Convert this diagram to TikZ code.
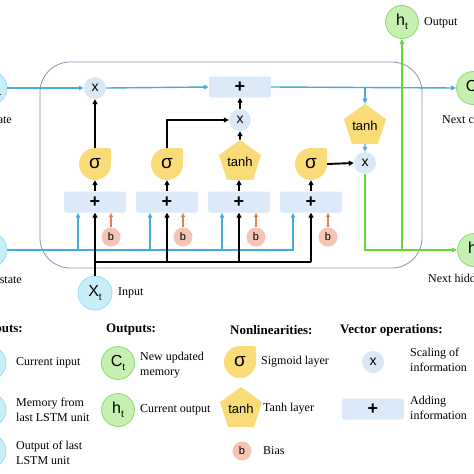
\documentclass[tikz,border=0pt]{standalone}
\usepackage{fontspec}
\setmainfont{Liberation Serif}
\newfontfamily\lsans{Liberation Sans}
\usetikzlibrary{arrows.meta,shapes.geometric,calc,backgrounds}
\definecolor{inF}{HTML}{C8EEF9}
\definecolor{inD}{HTML}{9EDDF1}
\definecolor{outF}{HTML}{C6EFB2}
\definecolor{outD}{HTML}{8FDB6F}
\definecolor{mulF}{HTML}{DAE8F5}
\definecolor{addF}{HTML}{DBE9F8}
\definecolor{sigF}{HTML}{F9DB78}
\definecolor{bF}{HTML}{F6C4B5}
\definecolor{blueL}{HTML}{45ACDC}
\definecolor{greenL}{HTML}{62D935}
\definecolor{oraL}{HTML}{E5804E}
\definecolor{frameC}{HTML}{8397AB}
\newcommand{\lsub}[2]{#1{\fontsize{10}{10}\selectfont\raisebox{-4pt}{#2}}}
\tikzset{
  x=1pt, y=-1pt,
  every node/.style={font=\fontsize{12}{15}\selectfont},
  inc/.style={circle, minimum size=34pt, inner sep=0pt, fill=inF, draw=inD, line width=0.8pt, font=\lsans\fontsize{16}{16}\selectfont},
  outc/.style={circle, minimum size=33pt, inner sep=0pt, fill=outF, draw=outD, line width=0.8pt, font=\lsans\fontsize{16}{16}\selectfont},
  mulc/.style={circle, minimum size=22pt, inner sep=0pt, fill=mulF, font=\lsans\fontsize{14}{14}\selectfont},
  addb/.style={rectangle, rounded corners=2.5pt, minimum width=62pt, minimum height=21pt, inner sep=0pt, fill=addF, font=\lsans\bfseries\fontsize{18}{18}\selectfont},
  sigc/.style={circle, minimum size=32pt, inner sep=0pt, fill=sigF, font=\lsans\fontsize{19}{19}\selectfont},
  tanhp/.style={regular polygon, regular polygon sides=5, minimum size=38pt, inner sep=0pt, fill=sigF, font=\lsans\fontsize{13}{13}\selectfont},
  biasc/.style={circle, minimum size=19pt, inner sep=0pt, fill=bF, font=\lsans\fontsize{11}{11}\selectfont},
  bl/.style={draw=blueL, line width=1.4pt, -{Triangle[length=5pt,width=4.5pt]}},
  bk/.style={draw=black, line width=1.9pt, -{Triangle[length=5pt,width=5pt]}},
  orr/.style={draw=oraL, line width=1.3pt, -{Triangle[length=4.5pt,width=4pt]}},
  gr/.style={draw=greenL, line width=1.8pt, -{Triangle[length=5pt,width=4.5pt]}},
  txt/.style={anchor=west, inner sep=0pt, align=left, font=\fontsize{12}{15}\selectfont},
  hdr/.style={anchor=west, inner sep=0pt, font=\bfseries\fontsize{13}{15}\selectfont},
}
\begin{document}
\begin{tikzpicture}
\useasboundingbox (0,0) rectangle (474,474);
\clip (0,0) rectangle (474,474);
% frame
\draw[frameC, line width=0.8pt, rounded corners=30pt] (40,62) rectangle (422,268);
% main nodes
\node[inc] (cin) at (-10,88) {\lsub{C}{t-1}};
\node[inc] (hin) at (-10,250) {\lsub{h}{t-1}};
\node[inc] (xt) at (95,293) {\lsub{X}{t}};
\node[mulc] (m1) at (95,88) {x};
\node[addb] (ad) at (240,87) {+};
\node[mulc] (m2) at (240,120) {x};
\node[tanhp] (tc) at (365,126) {tanh};
\node[mulc] (m3) at (365,163) {x};
\node[outc] (hout) at (402,22) {\lsub{h}{t}};
\node[outc] (cout) at (473,88) {\lsub{C}{t}};
\node[outc] (hnext) at (474,250) {\lsub{h}{t}};
% gates
\node[sigc] (s1) at (95,164) {σ};
\node[sigc] (s2) at (167,164) {σ};
\node[tanhp] (t3) at (240,162) {tanh};
\node[sigc] (s4) at (311,164) {σ};
\node[addb] (a1) at (95,202) {+};
\node[addb] (a2) at (167,202) {+};
\node[addb] (a3) at (239,202) {+};
\node[addb] (a4) at (311,202) {+};
\node[biasc] (b1) at (111,237) {b};
\node[biasc] (b2) at (183,237) {b};
\node[biasc] (b3) at (256,237) {b};
\node[biasc] (b4) at (328,237) {b};
% legend nodes
\node[inc] (lx) at (-11,363) {\lsub{X}{t}};
\node[inc] (lc) at (-11,410) {\lsub{C}{t-1}};
\node[inc] (lh) at (-11,451) {\lsub{h}{t-1}};
\node[outc] (lct) at (118,363) {\lsub{C}{t}};
\node[outc] (lht) at (118,410) {\lsub{h}{t}};
\node[sigc] (ls) at (240,362) {σ};
\node[tanhp] (lt) at (241,409) {tanh};
\node[biasc] (lb) at (242,451) {b};
\node[mulc] (lm) at (373,362) {x};
\node[addb] (la) at (373,409) {+};
% sigma corners (top right)
\begin{scope}[on background layer]
\foreach \n in {s1,s2,s4,ls}{
  \fill[sigF, rounded corners=1.5pt] (\n.center) rectangle ([xshift=16pt,yshift=16pt]\n.center);
}
\end{scope}
% blue cell-state path
\draw[bl] (cin.east) -- (m1.west);
\draw[bl] (m1.east) -- (ad.west);
\draw[bl] (ad.east) -- (cout.west);
\draw[bl] (ad.east -| tc.north) -- (tc.north);
\draw[bl] (tc.south) -- (m3.north);
% blue hidden-state path
\coordinate (hc) at (293,250);
\draw[bl] (hin.east) -- (hc) -- (hc |- a4.south);
\foreach \xx/\bb in {78/a1,150/a2,222/a3}{
  \draw[bl] (\xx,250) -- (\xx,250 |- \bb.south);
}
% black input path
\coordinate (j1) at (95,262);
\draw[bk] (xt.north) -- (a1.south);
\draw[bk,-] (j1) -- (311,262);
\draw[bk] (167,262) -- (a2.south);
\draw[bk] (239,262) -- (a3.south);
\draw[bk] (311,262) -- (a4.south);
% box to gates
\draw[bk] (a1.north) -- (s1.south);
\draw[bk] (a2.north) -- (s2.south);
\draw[bk] (a3.north) -- (a3.north |- t3.south);
\draw[bk] (a4.north) -- (s4.south);
% gates to ops
\draw[bk] (s1.north) -- (m1.south);
\draw[bk] (s2.north) |- (m2.west);
\draw[bk] (t3.north) -- (m2.south);
\draw[bk] (m2.north) -- (ad.south);
\draw[bk] (s4.east) -- (m3.west);
% bias
\draw[orr] (b1.north) -- (b1.north |- a1.south);
\draw[orr] (b2.north) -- (b2.north |- a2.south);
\draw[orr] (b3.north) -- (b3.north |- a3.south);
\draw[orr] (b4.north) -- (b4.north |- a4.south);
% green output
\draw[gr] (m3.south) |- (hnext.west);
\draw[gr] (hout.south |- hnext.west) -- (hout.south);
% labels
\node[anchor=east, inner sep=0pt] (lpc) at (12,119) {Previous cell state};
\node[anchor=east, inner sep=0pt] (lph) at (22,279) {Previous hidden state};
\node[txt] (linp) at (118,293) {Input};
\node[txt] (lout) at (424,23) {Output};
\node[txt] (lnc) at (442,119) {Next cell state};
\node[txt] (lnh) at (428,278) {Next hidden state};
% legend texts
\node[hdr, anchor=east] (h1) at (23,330) {Inputs:};
\node[hdr] (h2) at (106,330) {Outputs:};
\node[hdr] (h3) at (230,330) {Nonlinearities:};
\node[hdr] (h4) at (340,330) {Vector operations:};
\node[txt] at (16,363) {Current input};
\node[txt] at (16,410) {Memory from\\last LSTM unit};
\node[txt] at (16,453) {Output of last\\LSTM unit};
\node[txt] at (140,365) {New updated\\memory};
\node[txt] at (140,410) {Current output};
\node[txt] at (261,362) {Sigmoid layer};
\node[txt] at (263,409) {Tanh layer};
\node[txt] at (263,451) {Bias};
\node[txt] at (410,360) {Scaling of\\information};
\node[txt] at (410,408) {Adding\\information};
\end{tikzpicture}
\end{document}
